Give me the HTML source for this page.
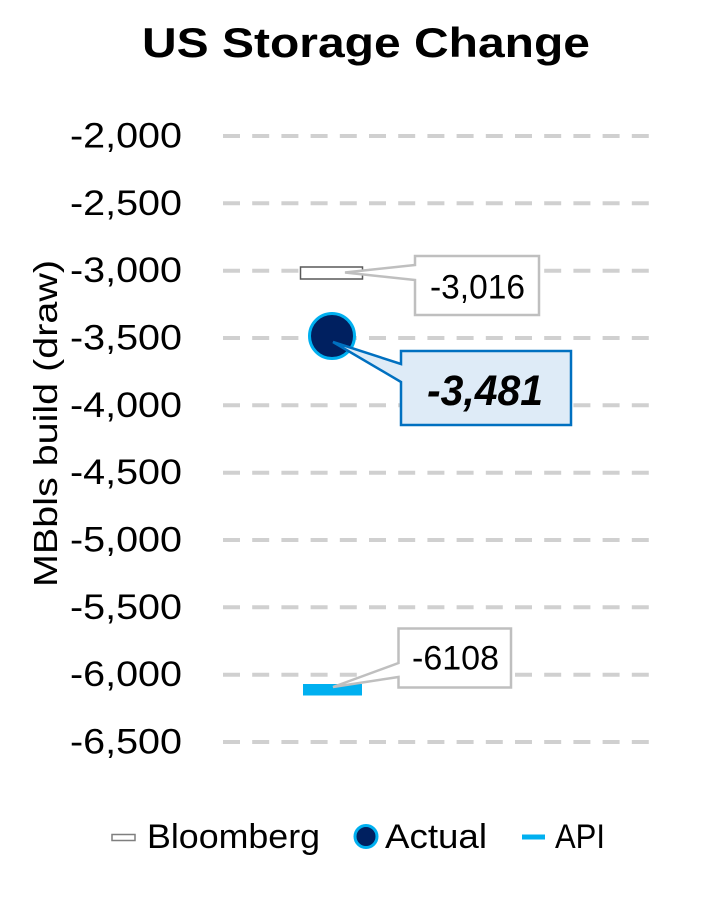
<!DOCTYPE html>
<html>
<head>
<meta charset="utf-8">
<style>
  html,body{margin:0;padding:0;background:#fff;}
  svg{display:block;}
  text{font-family:"Liberation Sans",Arial,sans-serif;fill:#000;}
</style>
</head>
<body>
<svg width="705" height="912" viewBox="0 0 705 912" xmlns="http://www.w3.org/2000/svg">
  <rect x="0" y="0" width="705" height="912" fill="#fff"/>

  <!-- Title -->
  <text x="142" y="57" font-size="42" font-weight="bold" textLength="448" lengthAdjust="spacingAndGlyphs">US Storage Change</text>

  <!-- Gridlines -->
  <g stroke="#D0D0D0" stroke-width="4" stroke-dasharray="17 12.2">
    <line x1="223" y1="136" x2="650" y2="136"/>
    <line x1="223" y1="203.3" x2="650" y2="203.3"/>
    <line x1="223" y1="270.7" x2="650" y2="270.7"/>
    <line x1="223" y1="338" x2="650" y2="338"/>
    <line x1="223" y1="405.3" x2="650" y2="405.3"/>
    <line x1="223" y1="472.7" x2="650" y2="472.7"/>
    <line x1="223" y1="540" x2="650" y2="540"/>
    <line x1="223" y1="607.3" x2="650" y2="607.3"/>
    <line x1="223" y1="674.7" x2="650" y2="674.7"/>
    <line x1="223" y1="742" x2="650" y2="742"/>
  </g>

  <!-- Tick labels -->
  <g font-size="35">
    <text x="70" y="147.5" textLength="112" lengthAdjust="spacingAndGlyphs">-2,000</text>
    <text x="70" y="214.8" textLength="112" lengthAdjust="spacingAndGlyphs">-2,500</text>
    <text x="70" y="282.2" textLength="112" lengthAdjust="spacingAndGlyphs">-3,000</text>
    <text x="70" y="349.5" textLength="112" lengthAdjust="spacingAndGlyphs">-3,500</text>
    <text x="70" y="416.8" textLength="112" lengthAdjust="spacingAndGlyphs">-4,000</text>
    <text x="70" y="484.2" textLength="112" lengthAdjust="spacingAndGlyphs">-4,500</text>
    <text x="70" y="551.5" textLength="112" lengthAdjust="spacingAndGlyphs">-5,000</text>
    <text x="70" y="618.8" textLength="112" lengthAdjust="spacingAndGlyphs">-5,500</text>
    <text x="70" y="686.2" textLength="112" lengthAdjust="spacingAndGlyphs">-6,000</text>
    <text x="70" y="753.5" textLength="112" lengthAdjust="spacingAndGlyphs">-6,500</text>
  </g>

  <!-- Axis title -->
  <text transform="translate(57,587) rotate(-90)" x="0" y="0" font-size="33" textLength="327" lengthAdjust="spacingAndGlyphs">MBbls build (draw)</text>

  <!-- Bloomberg marker -->
  <rect x="300.5" y="267" width="62" height="12" fill="#fff" stroke="#595959" stroke-width="1.5"/>

  <!-- Actual marker -->
  <circle cx="332" cy="336" r="22.5" fill="#002060" stroke="#00B0F0" stroke-width="3"/>

  <!-- API marker -->
  <rect x="303" y="684" width="59" height="11.5" fill="#00B0F0"/>

  <!-- Callout -3,016 -->
  <path d="M415,256 H539 V315 H415 V280 L345,272.5 L415,265 Z" fill="#fff" stroke="#BFBFBF" stroke-width="2.5" stroke-linejoin="miter"/>
  <text x="430" y="298.5" font-size="34" textLength="95" lengthAdjust="spacingAndGlyphs">-3,016</text>

  <!-- Callout -3,481 -->
  <path d="M401,351 H571 V425 H401 V382 L333,342 L401,364 Z" fill="#DEEBF7" stroke="#0070C0" stroke-width="2.5" stroke-linejoin="miter"/>
  <text x="427" y="405" font-size="43" font-weight="bold" font-style="italic" textLength="116" lengthAdjust="spacingAndGlyphs">-3,481</text>

  <!-- Callout -6108 -->
  <path d="M398.5,628.5 H511 V687.5 H398.5 V677 L333,687 L398.5,663 Z" fill="#fff" stroke="#BFBFBF" stroke-width="2.5" stroke-linejoin="miter"/>
  <text x="412" y="669.5" font-size="34" textLength="87" lengthAdjust="spacingAndGlyphs">-6108</text>

  <!-- Legend -->
  <rect x="112" y="834.5" width="23" height="6" fill="#fff" stroke="#7F7F7F" stroke-width="1.5"/>
  <text x="147" y="848" font-size="34" textLength="173" lengthAdjust="spacingAndGlyphs">Bloomberg</text>

  <circle cx="366" cy="836.5" r="11" fill="#002060" stroke="#00B0F0" stroke-width="3"/>
  <text x="385" y="848" font-size="34" textLength="102" lengthAdjust="spacingAndGlyphs">Actual</text>

  <rect x="522" y="834.5" width="23" height="5" fill="#00B0F0"/>
  <text x="555" y="848" font-size="34" textLength="50" lengthAdjust="spacingAndGlyphs">API</text>
</svg>
</body>
</html>
